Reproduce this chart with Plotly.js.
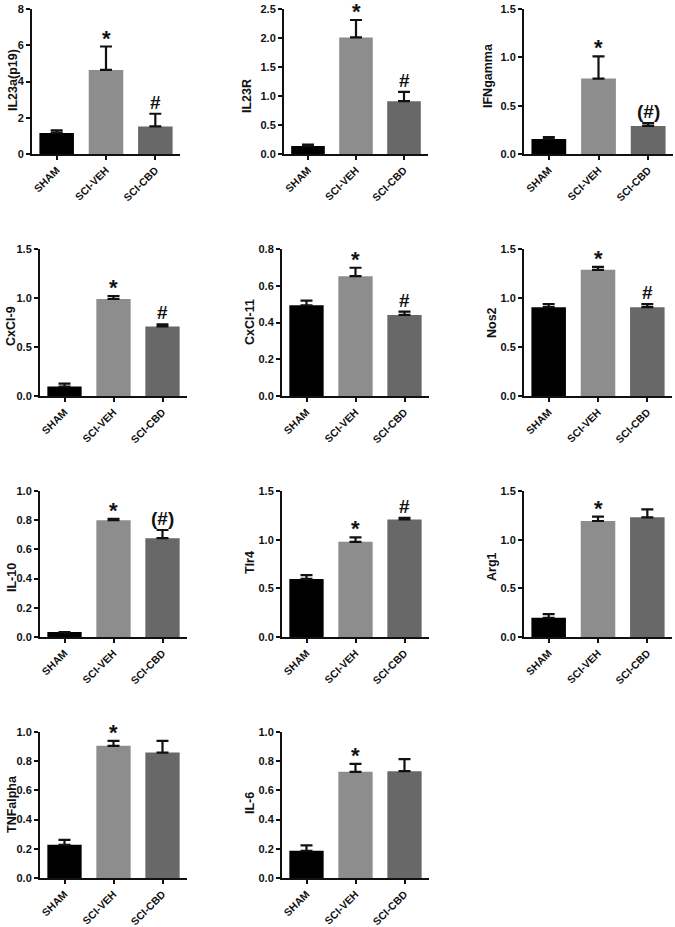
<!DOCTYPE html>
<html>
<head>
<meta charset="utf-8">
<script src="https://cdn.plot.ly/plotly-3.0.1.min.js"></script>
<style>html,body{margin:0;padding:0;background:#fff;}#chart{width:675px;height:927px;}</style>
</head>
<body>
<div id="chart"></div>
<script>
// ---- data ----
const groups = ["SHAM", "SCI-VEH", "SCI-CBD"];
const genes = ["IL23a(p19)", "IL23R", "IFNgamma", "CxCl-9", "CxCl-11", "Nos2", "IL-10", "Tlr4", "Arg1", "TNFalpha", "IL-6"];

const il23a_mean = [1.16, 4.64, 1.52];   const il23a_sem = [0.14, 1.29, 0.70];
const il23r_mean = [0.14, 2.01, 0.91];   const il23r_sem = [0.02, 0.30, 0.16];
const ifng_mean  = [0.155, 0.78, 0.29];  const ifng_sem  = [0.02, 0.23, 0.03];
const cxcl9_mean = [0.096, 0.99, 0.71];  const cxcl9_sem = [0.03, 0.03, 0.02];
const cxcl11_mean= [0.494, 0.652, 0.441];const cxcl11_sem= [0.025, 0.046, 0.018];
const nos2_mean  = [0.906, 1.287, 0.906];const nos2_sem  = [0.031, 0.031, 0.031];
const il10_mean  = [0.034, 0.80, 0.677]; const il10_sem  = [0.0, 0.01, 0.056];
const tlr4_mean  = [0.597, 0.978, 1.208];const tlr4_sem  = [0.038, 0.045, 0.017];
const arg1_mean  = [0.198, 1.192, 1.230];const arg1_sem  = [0.038, 0.045, 0.082];
const tnfa_mean  = [0.227, 0.905, 0.859];const tnfa_sem  = [0.034, 0.034, 0.080];
const il6_mean   = [0.186, 0.727, 0.732];const il6_sem   = [0.037, 0.055, 0.082];

const il23a_sig = ["", "*", "#"];
const il23r_sig = ["", "*", "#"];
const ifng_sig  = ["", "*", "(#)"];
const cxcl9_sig = ["", "*", "#"];
const cxcl11_sig= ["", "*", "#"];
const nos2_sig  = ["", "*", "#"];
const il10_sig  = ["", "*", "(#)"];
const tlr4_sig  = ["", "*", "#"];
const arg1_sig  = ["", "*", ""];
const tnfa_sig  = ["", "*", ""];
const il6_sig   = ["", "*", ""];

const yMax  = [8, 2.5, 1.5, 1.5, 0.8, 1.5, 1.0, 1.5, 1.5, 1.0, 1.0];
const yStep = [2, 0.5, 0.5, 0.5, 0.2, 0.5, 0.2, 0.5, 0.5, 0.2, 0.2];

const means = [il23a_mean, il23r_mean, ifng_mean, cxcl9_mean, cxcl11_mean, nos2_mean, il10_mean, tlr4_mean, arg1_mean, tnfa_mean, il6_mean];
const sems  = [il23a_sem, il23r_sem, ifng_sem, cxcl9_sem, cxcl11_sem, nos2_sem, il10_sem, tlr4_sem, arg1_sem, tnfa_sem, il6_sem];
const sigs  = [il23a_sig, il23r_sig, ifng_sig, cxcl9_sig, cxcl11_sig, nos2_sig, il10_sig, tlr4_sig, arg1_sig, tnfa_sig, il6_sig];

// ---- layout (pixel geometry) ----
const W = 675, H = 927;
const colPx = [[[32,180],[284,428],[524,673]],
               [[40,187],[282,429],[524,672]],
               [[40,187],[282,429],[524,672]],
               [[40,187],[282,429],[524,672]]];
const rowPx = [[9,154],[249,396],[491,637],[732,878]];
// y-title centres (px) per panel
const titleX = [13, 247, 488, 11, 250, 492, 12, 250, 492, 12, 250];
const titleY = [80, 96, 75, 326, 322, 323, 578, 563, 567, 804, 803];
const barColors = ["#000000", "#8d8d8d", "#686868"];
const FONT = "Liberation Sans, Arial, sans-serif";

const traces = [];
const layout = {
  width: W, height: H,
  margin: {l:0, r:0, t:0, b:0},
  paper_bgcolor: "#fff", plot_bgcolor: "#fff",
  showlegend: false,
  bargap: 0.3,
  font: {family: FONT, color: "#111"},
  annotations: []
};

genes.forEach((g, i) => {
  const r = Math.floor(i / 3), c = i % 3;
  const n = i + 1;
  const xa = "x" + (n === 1 ? "" : n), ya = "y" + (n === 1 ? "" : n);
  const xk = "xaxis" + (n === 1 ? "" : n), yk = "yaxis" + (n === 1 ? "" : n);
  traces.push({
    type: "bar",
    x: groups, y: means[i],
    xaxis: xa, yaxis: ya,
    marker: {color: barColors, line: {width: 0}},
    error_y: {type: "data", array: sems[i], arrayminus: sems[i].map(() => 0), symmetric: false,
              color: "#111", thickness: 2.2, width: 6},
    hoverinfo: "x+y"
  });
  const [x0, x1] = colPx[r][c];
  const [y0, y1] = rowPx[r];
  layout[xk] = {
    domain: [x0 / W, x1 / W], anchor: ya,
    type: "category", range: [-0.5, 2.5],
    showline: true, linecolor: "#111", linewidth: 2,
    ticks: "outside", ticklen: 4, tickwidth: 2, tickcolor: "#111",
    tickangle: -45,
    tickfont: {family: FONT, size: 10.5, weight: "bold", color: "#111"},
    showgrid: false, zeroline: false, fixedrange: true
  };
  layout[yk] = {
    domain: [1 - y1 / H, 1 - y0 / H], anchor: xa,
    range: [0, yMax[i]], dtick: yStep[i], tick0: 0,
    tickformat: i === 0 ? "d" : ".1f",
    showline: true, linecolor: "#111", linewidth: 2,
    ticks: "outside", ticklen: 4, tickwidth: 2, tickcolor: "#111",
    tickfont: {family: FONT, size: 11, weight: "bold", color: "#111"},
    showgrid: false, zeroline: false, fixedrange: true
  };
  // y-axis title
  layout.annotations.push({
    xref: "paper", yref: "paper", x: titleX[i] / W, y: 1 - titleY[i] / H,
    xanchor: "center", yanchor: "middle", textangle: -90, showarrow: false,
    text: g, font: {family: FONT, size: 12.5, weight: "bold", color: "#111"}
  });
  sigs[i].forEach((s, k) => {
    if (!s) return;
    layout.annotations.push({
      xref: xa, yref: ya, x: groups[k], y: means[i][k] + sems[i][k],
      text: s, showarrow: false, yanchor: "bottom",
      yshift: s === "*" ? -6 : -1,
      font: {family: FONT, size: s === "*" ? 22 : 19, weight: "bold", color: "#111"}
    });
  });
});

Plotly.newPlot("chart", traces, layout, {displayModeBar: false, staticPlot: true});
</script>
</body>
</html>
